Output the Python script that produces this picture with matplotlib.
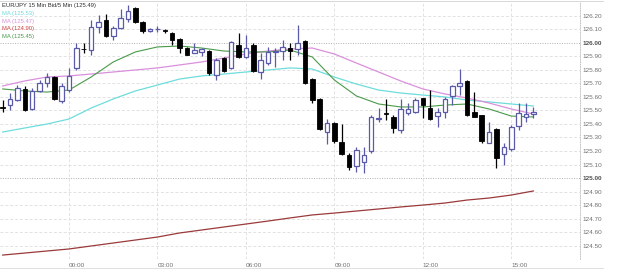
import matplotlib
matplotlib.use("Agg")
import matplotlib.pyplot as plt
import numpy as np
import pandas as pd
from matplotlib.lines import Line2D

# ---------------- data ----------------
title_text = "EUR/JPY 15 Min Bid/5 Min (125.49)"
ma_labels = ["MA (125.53)", "MA (125.47)", "MA (124.90)", "MA (125.45)"]

opens = [125.525, 125.539, 125.576, 125.658, 125.510, 125.643, 125.702, 125.746, 125.569, 125.650,
         125.813, 125.955, 125.945, 126.115, 126.167, 126.049, 126.108, 126.174, 126.255, 126.152,
         126.086, 126.100, 126.093, 126.071, 126.027, 125.960, 125.923, 125.931, 125.938, 125.761,
         125.886, 125.813, 125.982, 125.894, 125.982, 125.783, 125.849, 125.931, 125.938, 125.960,
         125.953, 126.012, 125.731, 125.584, 125.340, 125.407, 125.266, 125.170, 125.089, 125.119,
         125.200, 125.436, 125.478, 125.451, 125.355, 125.480, 125.488, 125.591, 125.517, 125.458,
         125.488, 125.606, 125.680, 125.717, 125.488, 125.466, 125.259, 125.362, 125.178, 125.215,
         125.384, 125.451, 125.473]
highs = [125.576, 125.628, 125.687, 125.680, 125.665, 125.724, 125.776, 125.753, 125.702, 125.813,
         125.997, 125.997, 126.167, 126.204, 126.211, 126.123, 126.248, 126.277, 126.260, 126.160,
         126.108, 126.123, 126.100, 126.078, 126.034, 125.968, 125.997, 125.960, 125.945, 125.886,
         125.894, 126.012, 126.071, 126.056, 125.997, 125.923, 125.968, 125.960, 126.019, 125.997,
         126.130, 126.019, 125.739, 125.591, 125.436, 125.414, 125.399, 125.185, 125.229, 125.229,
         125.466, 125.517, 125.584, 125.466, 125.584, 125.554, 125.591, 125.591, 125.650, 125.517,
         125.598, 125.687, 125.805, 125.724, 125.635, 125.466, 125.414, 125.370, 125.259, 125.392,
         125.554, 125.554, 125.525]
lows = [125.488, 125.503, 125.569, 125.495, 125.503, 125.635, 125.672, 125.576, 125.554, 125.635,
        125.798, 125.923, 125.908, 126.071, 126.045, 126.019, 126.100, 126.152, 126.145, 126.071,
        126.078, 126.078, 126.071, 125.982, 125.923, 125.905, 125.920, 125.901, 125.761, 125.724,
        125.783, 125.805, 125.890, 125.886, 125.783, 125.731, 125.835, 125.820, 125.872, 125.872,
        125.908, 125.694, 125.554, 125.355, 125.252, 125.259, 125.170, 125.060, 125.045, 125.038,
        125.185, 125.414, 125.429, 125.333, 125.333, 125.466, 125.480, 125.444, 125.429, 125.377,
        125.444, 125.539, 125.613, 125.458, 125.451, 125.259, 125.259, 125.075, 125.097, 125.200,
        125.355, 125.414, 125.444]
closes = [125.517, 125.584, 125.665, 125.503, 125.643, 125.702, 125.746, 125.584, 125.680, 125.753,
          125.960, 125.950, 126.115, 126.152, 126.049, 126.108, 126.182, 126.233, 126.152, 126.086,
          126.100, 126.102, 126.082, 126.019, 125.960, 125.908, 125.945, 125.953, 125.776, 125.872,
          125.790, 126.004, 125.894, 125.960, 125.790, 125.872, 125.931, 125.933, 125.968, 125.938,
          125.997, 125.702, 125.576, 125.362, 125.407, 125.274, 125.178, 125.082, 125.207, 125.170,
          125.451, 125.436, 125.470, 125.370, 125.510, 125.510, 125.576, 125.539, 125.436, 125.488,
          125.584, 125.680, 125.702, 125.466, 125.451, 125.274, 125.340, 125.148, 125.229, 125.377,
          125.480, 125.473, 125.488]

# moving averages sampled every 3rd bar (bar index 0, 3, ..., 72)
ma_bar = [0, 3, 6, 9, 12, 15, 18, 21, 24, 27, 30, 33, 36, 39, 42, 45, 48, 51, 54, 57, 60, 63, 66, 69, 72]
ma_cyan = [125.340, 125.370, 125.399, 125.436, 125.517, 125.584, 125.643, 125.687, 125.731, 125.754,
           125.768, 125.783, 125.798, 125.813, 125.805, 125.746, 125.694, 125.650, 125.628, 125.613,
           125.599, 125.576, 125.562, 125.547, 125.532]
ma_pink = [125.680, 125.717, 125.746, 125.754, 125.768, 125.783, 125.798, 125.813, 125.835, 125.857,
           125.886, 125.916, 125.938, 125.953, 125.960, 125.916, 125.849, 125.783, 125.717, 125.658,
           125.621, 125.591, 125.554, 125.510, 125.473]
ma_red = [124.432, 124.447, 124.462, 124.477, 124.499, 124.521, 124.543, 124.565, 124.595, 124.617,
          124.639, 124.661, 124.683, 124.706, 124.728, 124.742, 124.757, 124.772, 124.787, 124.801,
          124.816, 124.838, 124.853, 124.875, 124.905]
ma_green = [125.658, 125.643, 125.635, 125.650, 125.746, 125.857, 125.931, 125.968, 125.975, 125.960,
            125.938, 125.931, 125.931, 125.945, 125.894, 125.724, 125.606, 125.547, 125.525, 125.525,
            125.539, 125.547, 125.510, 125.458, 125.451]

y_ticks = [124.50, 124.60, 124.70, 124.80, 124.90, 125.00, 125.10, 125.20, 125.30, 125.40,
           125.50, 125.60, 125.70, 125.80, 125.90, 126.00, 126.10, 126.20]
start_time = "2013-09-09 21:45"

# ---------------- styles ----------------
C_UP = "#5a5aa8"
C_DN = "#000000"
C_CYAN = "#6fdcdc"
C_PINK = "#d990dc"
C_RED = "#9a3a3a"
C_GREEN = "#4a9a4a"

W, H = 625, 274
fig = plt.figure(figsize=(W / 100, H / 100), dpi=100)
fig.patch.set_facecolor("white")

top_px, bot_px, right_px = 2, 259, 580
ax = fig.add_axes([0, 1 - bot_px / H, right_px / W, (bot_px - top_px) / H])
ax.set_facecolor("white")

n = len(opens)
idx = np.arange(n)
times = pd.date_range(start_time, periods=n, freq="15min")

# grid
for yv in y_ticks:
    major = abs(yv - round(yv)) < 1e-6
    ax.axhline(yv, color="#b0b0b0" if major else "#e2e2e2", lw=0.7,
               ls=(0, (1, 1.5)) if major else (0, (3, 2)), zorder=0)
tick_idx = [i for i, t in enumerate(times) if t.minute == 0 and t.hour % 3 == 0]
tick_lab = [times[i].strftime("%H:%M") for i in tick_idx]
for i in tick_idx:
    ax.axvline(i, color="#e2e2e2", lw=0.7, ls=(0, (3, 2)), zorder=0)

# moving averages
ax.plot(ma_bar, ma_red, color=C_RED, lw=0.9, zorder=1.5)
ax.plot(ma_bar, ma_cyan, color=C_CYAN, lw=0.9, zorder=1.5)
ax.plot(ma_bar, ma_pink, color=C_PINK, lw=0.9, zorder=1.5)
ax.plot(ma_bar, ma_green, color=C_GREEN, lw=0.8, zorder=1.5)

# candles
o = np.array(opens); h = np.array(highs); l = np.array(lows); c = np.array(closes)
up = c >= o
cols = np.where(up, C_UP, C_DN)
ax.vlines(idx, l, h, colors=cols, lw=0.9, zorder=2)
bottom = np.minimum(o, c)
height = np.maximum(np.abs(c - o), 0.004)
ax.bar(idx[up], height[up], bottom=bottom[up], width=0.62, facecolor="white",
       edgecolor=C_UP, linewidth=0.9, zorder=3)
ax.bar(idx[~up], height[~up], bottom=bottom[~up], width=0.62, facecolor=C_DN,
       edgecolor=C_DN, linewidth=0.6, zorder=3)

# axes scaling
px_per_bar = 7.37
x0_px = 2.7
ax.set_xlim(-x0_px / px_per_bar, (right_px - x0_px) / px_per_bar)
py = 135.5
ax.set_ylim(126.20 - (bot_px - 15.5) / py, 126.20 + (15.5 - top_px) / py)

for s in ["top", "bottom", "left"]:
    ax.spines[s].set_visible(False)
ax.spines["right"].set_color("#c8c8c8")
ax.spines["right"].set_linestyle((0, (1, 1.5)))
ax.spines["right"].set_linewidth(0.7)

ax.yaxis.tick_right()
ax.set_yticks(y_ticks)
ax.set_yticklabels([f"{v:.2f}" for v in y_ticks])
ax.tick_params(axis="y", length=0, pad=2, labelsize=4.6, labelcolor="#707070")
for lab, v in zip(ax.get_yticklabels(), y_ticks):
    lab.set_family("Liberation Sans")
    if abs(v - round(v)) < 1e-6:
        lab.set_fontweight("bold")
        lab.set_color("#505050")

ax.set_xticks(tick_idx)
ax.set_xticklabels(tick_lab)
ax.tick_params(axis="x", length=0, pad=3, labelsize=4.6, labelcolor="#707070")
for lab in ax.get_xticklabels():
    lab.set_family("Liberation Sans")
    lab.set_horizontalalignment("left")

# legend texts
legend_cols = ["#303030", C_CYAN, C_PINK, "#d04040", C_GREEN]
legend_txt = [title_text] + ma_labels
legend_y = [5.7, 13.3, 21.0, 28.7, 36.3]
for t, col, yy in zip(legend_txt, legend_cols, legend_y):
    fig.text(1.7 / W, 1 - yy / H, t, color=col, fontsize=4.2, family="Liberation Sans",
             va="center", ha="left")

# frame lines
fig.add_artist(Line2D([0, 603 / W], [1 - 1.2 / H, 1 - 1.2 / H], color="#d8d8d8", lw=0.7))
fig.add_artist(Line2D([0, 603 / W], [1 - 267.5 / H, 1 - 267.5 / H], color="#e0e0e0", lw=0.7))

fig.savefig("out.png", dpi=100, facecolor="white")
